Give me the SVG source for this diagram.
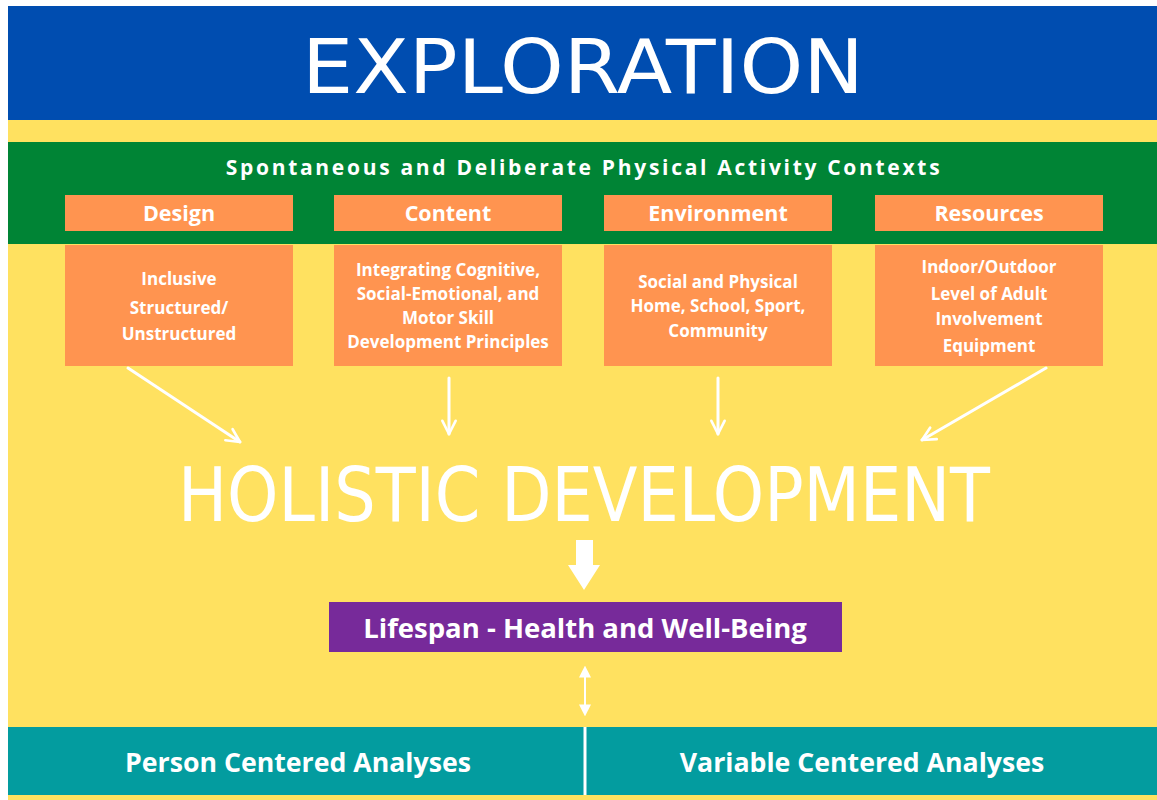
<svg xmlns="http://www.w3.org/2000/svg" width="1157" height="800" viewBox="0 0 1157 800">
<defs>
<style>
.hd{font-family:"Open Sans","Noto Sans","DejaVu Sans",sans-serif;font-weight:700;fill:#fff;text-anchor:middle}
.orange{fill:#FF9450}
.lbl{font-size:21.5px}
.body{font-size:17px}
.hand{font-family:"DejaVu Sans","Liberation Sans",sans-serif;font-weight:400;fill:#fff;text-anchor:middle}
.conn{stroke:#fff;stroke-width:3;fill:none;stroke-linecap:round}
</style>
<marker id="ah" viewBox="0 0 10 10" refX="9" refY="5" markerWidth="5.5" markerHeight="5.5" orient="auto" markerUnits="strokeWidth">
<path d="M1,1 L9,5 L1,9" fill="none" stroke="#fff" stroke-width="1.6" stroke-linecap="round" stroke-linejoin="round"/>
</marker>
<marker id="ahs" viewBox="0 0 10 10" refX="8" refY="5" markerWidth="6" markerHeight="6" orient="auto-start-reverse" markerUnits="strokeWidth">
<path d="M0,0 L10,5 L0,10 Z" fill="#fff"/>
</marker>
</defs>
<rect x="0" y="0" width="1157" height="800" fill="#fff"/>
<rect x="8" y="6" width="1149" height="794" fill="#FFE160"/>
<g id="title">
<rect x="8" y="6" width="1149" height="114" fill="#004DB0"/>
<text class="hand" x="583" y="93" font-size="74" textLength="562" lengthAdjust="spacingAndGlyphs">EXPLORATION</text>
</g>
<g id="contexts">
<rect x="8" y="142" width="1149" height="102" fill="#008435"/>
<text class="hd" x="584" y="175" font-size="21" letter-spacing="2.7">Spontaneous and Deliberate Physical Activity Contexts</text>
</g>
<g id="design">
<rect class="orange" x="65" y="195" width="228" height="36"/>
<text class="hd lbl" x="179" y="221">Design</text>
<rect class="orange" x="65" y="245" width="228" height="121"/>
<text class="hd body" x="179" y="285">Inclusive</text>
<text class="hd body" x="179" y="314">Structured/</text>
<text class="hd body" x="179" y="340">Unstructured</text>
</g>
<g id="content">
<rect class="orange" x="334" y="195" width="228" height="36"/>
<text class="hd lbl" x="448" y="221">Content</text>
<rect class="orange" x="334" y="245" width="228" height="121"/>
<text class="hd body" x="448" y="276">Integrating Cognitive,</text>
<text class="hd body" x="448" y="300">Social-Emotional, and</text>
<text class="hd body" x="448" y="324">Motor Skill</text>
<text class="hd body" x="448" y="348">Development Principles</text>
</g>
<g id="environment">
<rect class="orange" x="604" y="195" width="228" height="36"/>
<text class="hd lbl" x="718" y="221">Environment</text>
<rect class="orange" x="604" y="245" width="228" height="121"/>
<text class="hd body" x="718" y="288">Social and Physical</text>
<text class="hd body" x="718" y="312">Home, School, Sport,</text>
<text class="hd body" x="718" y="337">Community</text>
</g>
<g id="resources">
<rect class="orange" x="875" y="195" width="228" height="36"/>
<text class="hd lbl" x="989" y="221">Resources</text>
<rect class="orange" x="875" y="245" width="228" height="121"/>
<text class="hd body" x="989" y="273">Indoor/Outdoor</text>
<text class="hd body" x="989" y="300">Level of Adult</text>
<text class="hd body" x="989" y="325">Involvement</text>
<text class="hd body" x="989" y="352">Equipment</text>
</g>
<g id="holistic">
<text class="hand" x="584" y="521" font-size="74" textLength="812" lengthAdjust="spacingAndGlyphs">HOLISTIC DEVELOPMENT</text>
</g>
<g id="lifespan">
<rect x="329" y="602" width="513" height="50" fill="#772A9A"/>
<text class="hd" x="585" y="638" font-size="27.5">Lifespan - Health and Well-Being</text>
</g>
<g id="analyses">
<rect x="8" y="727" width="1149" height="68" fill="#039C9F"/>
<text class="hd" x="298" y="772" font-size="26.7">Person Centered Analyses</text>
<text class="hd" x="862" y="772" font-size="26.7">Variable Centered Analyses</text>
</g>
<g id="connectors">
<line class="conn" x1="128" y1="368" x2="240" y2="442" marker-end="url(#ah)"/>
<line class="conn" x1="449" y1="378" x2="449" y2="434" marker-end="url(#ah)"/>
<line class="conn" x1="718" y1="378" x2="718" y2="434" marker-end="url(#ah)"/>
<line class="conn" x1="1046" y1="368" x2="922" y2="440" marker-end="url(#ah)"/>
<path d="M576,540 H593 V565 H600 L584,590 L568,565 H576 Z" fill="#fff"/>
<line x1="585" y1="668" x2="585" y2="714" stroke="#fff" stroke-width="2" marker-start="url(#ahs)" marker-end="url(#ahs)"/>
<line x1="585" y1="727" x2="585" y2="795" stroke="#fff" stroke-width="3"/>
</g>
</svg>
